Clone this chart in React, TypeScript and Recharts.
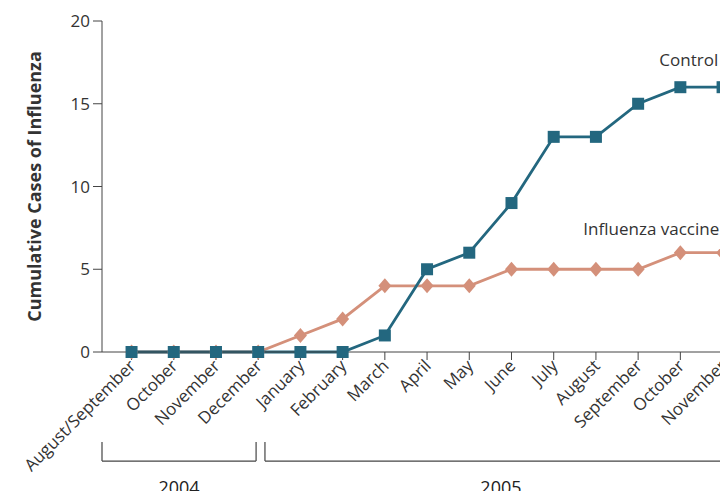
import { CartesianGrid, Line, LineChart, ReferenceLine, XAxis, YAxis } from "recharts";

const months = [
  "August/September",
  "October",
  "November",
  "December",
  "January",
  "February",
  "March",
  "April",
  "May",
  "June",
  "July",
  "August",
  "September",
  "October",
  "November",
];
const controlCases = [0, 0, 0, 0, 0, 0, 1, 5, 6, 9, 13, 13, 15, 16, 16];
const vaccineCases = [0, 0, 0, 0, 1, 2, 4, 4, 4, 5, 5, 5, 5, 6, 6];
const yTicks = [0, 5, 10, 15, 20];
// year brackets under the month labels, in category-index units
const years = [
  { label: "2004", from: -0.7, to: 2.95 },
  { label: "2005", from: 3.16, to: 14.34 },
];
const bracketTop = -5.44;
const bracketBottom = -6.59;

const FONT = "'Open Sans', sans-serif";
const CONTROL = "#23677f";
const VACCINE = "#d4907a";
const AXIS = "#444";

const data = months.map((month, i) => ({
  idx: i,
  month,
  control: controlCases[i],
  vaccine: vaccineCases[i],
}));

function Square(props: any) {
  const { cx, cy, index } = props;
  return <rect key={`sq-${index}`} x={cx - 6} y={cy - 6} width={12} height={12} fill={CONTROL} />;
}

function Diamond(props: any) {
  const { cx, cy, index } = props;
  return (
    <polygon
      key={`dm-${index}`}
      points={`${cx},${cy - 7.5} ${cx + 6.5},${cy} ${cx},${cy + 7.5} ${cx - 6.5},${cy}`}
      fill={VACCINE}
    />
  );
}

function MonthTick(props: any) {
  const { x, y, payload } = props;
  return (
    <text
      x={x + 5}
      y={y + 5}
      transform={`rotate(-45, ${x + 5}, ${y + 5})`}
      textAnchor="end"
      fontSize={17}
      fontFamily={FONT}
      fill="#333"
    >
      {months[payload.value]}
    </text>
  );
}

function seriesLabel(text: string, at: number, dx: number, dy: number) {
  return (props: any) => {
    if (props.index !== at) return null;
    return (
      <text x={props.x + dx} y={props.y + dy} fontSize={17} fontFamily={FONT} fill="#333">
        {text}
      </text>
    );
  };
}

export default function App() {
  return (
    <div
      style={{
        position: "fixed",
        left: 0,
        top: 0,
        width: 720,
        height: 491,
        overflow: "hidden",
        background: "#fff",
      }}
    >
      <LineChart width={807} height={491} data={data} margin={{ top: 21, right: 0, bottom: 0, left: 0 }}>
        <CartesianGrid stroke="none" />
        <XAxis
          dataKey="idx"
          type="number"
          domain={[-0.7, 16]}
          ticks={months.map((_, i) => i)}
          interval={0}
          height={139}
          stroke={AXIS}
          tickSize={8}
          tickMargin={2}
          tick={<MonthTick />}
        />
        <YAxis
          domain={[0, 20]}
          ticks={yTicks}
          width={102}
          stroke={AXIS}
          tickSize={9}
          tickMargin={3}
          tick={{ fontSize: 17, fontFamily: FONT, fill: "#333" }}
          label={{
            value: "Cumulative Cases of Influenza",
            angle: -90,
            position: "insideLeft",
            offset: 35,
            style: { textAnchor: "middle", fontSize: 18, fontWeight: 700, fontFamily: FONT, fill: "#333" },
          }}
        />
        {years.map((yr) => (
          <ReferenceLine
            key={`${yr.label}-l`}
            ifOverflow="visible"
            stroke={AXIS}
            strokeWidth={1.2}
            segment={[
              { x: yr.from, y: bracketTop },
              { x: yr.from, y: bracketBottom },
            ]}
          />
        ))}
        {years.map((yr) => (
          <ReferenceLine
            key={`${yr.label}-r`}
            ifOverflow="visible"
            stroke={AXIS}
            strokeWidth={1.2}
            segment={[
              { x: yr.to, y: bracketTop },
              { x: yr.to, y: bracketBottom },
            ]}
          />
        ))}
        {years.map((yr) => (
          <ReferenceLine
            key={`${yr.label}-h`}
            ifOverflow="visible"
            stroke={AXIS}
            strokeWidth={1.2}
            segment={[
              { x: yr.from, y: bracketBottom },
              { x: yr.to, y: bracketBottom },
            ]}
            label={{
              value: yr.label,
              position: "bottom",
              offset: 20,
              fontSize: 18,
              fontFamily: FONT,
              fill: "#222",
            }}
          />
        ))}
        <Line
          dataKey="vaccine"
          stroke={VACCINE}
          strokeWidth={2.8}
          dot={<Diamond />}
          isAnimationActive={false}
          label={seriesLabel("Influenza vaccine", 13, -97, -18)}
        />
        <Line
          dataKey="control"
          stroke={CONTROL}
          strokeWidth={2.8}
          dot={<Square />}
          isAnimationActive={false}
          label={seriesLabel("Control", 13, -21, -21)}
        />
      </LineChart>
    </div>
  );
}
